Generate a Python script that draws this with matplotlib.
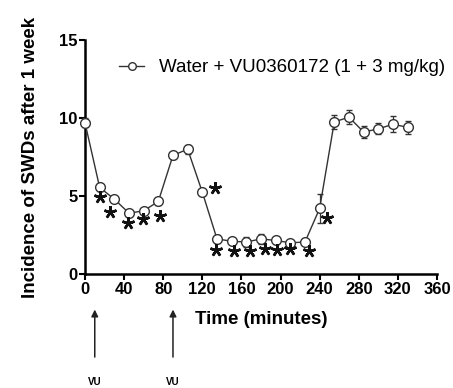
import numpy as np
import matplotlib
matplotlib.use('Agg')
import matplotlib.pyplot as plt
from matplotlib.lines import Line2D

plt.rcParams['font.family'] = ['Liberation Sans', 'DejaVu Sans']

# time points (minutes) and mean incidence
time = [0, 15, 30, 45, 60, 75, 90, 105, 120, 135, 150, 165, 180, 195, 210, 225,
        240, 255, 270, 285, 300, 315, 330]
swd = [9.7, 5.55, 4.8, 3.9, 4.05, 4.65, 7.6, 8.0, 5.25, 2.25, 2.1, 2.05, 2.25, 2.15,
       2.0, 2.05, 4.2, 9.75, 10.05, 9.1, 9.3, 9.6, 9.4]
sem = [0.3, 0.2, 0.15, 0.2, 0.2, 0.2, 0.2, 0.3, 0.2, 0.25, 0.2, 0.35, 0.3, 0.2,
       0.2, 0.2, 0.95, 0.45, 0.45, 0.4, 0.35, 0.5, 0.4]

# significance stars
star_x = [15.5, 25.5, 44.5, 59, 77, 133, 134, 152, 169, 184.5, 196, 209.5, 229, 248]
star_y = [4.95, 3.95, 3.25, 3.5, 3.7, 5.5, 1.55, 1.5, 1.5, 1.58, 1.55, 1.58, 1.5, 3.57]

label = 'Water + VU0360172 (1 + 3 mg/kg)'
arrow_t = [10, 90]

fig = plt.figure(figsize=(4.53, 3.88), dpi=100)
ax = fig.add_axes([0.1876, 0.2938, 0.777, 0.6032])

ax.errorbar(time, swd, yerr=sem, color='#333333', lw=1.0, marker='o', ms=7,
            mfc='white', mec='#333333', mew=1.0, capsize=2, elinewidth=0.9,
            capthick=0.9, clip_on=False, zorder=3)
ax.plot(star_x, star_y, ls='none', marker=(5, 2, 0), ms=9, mew=1.8,
        color='#111111', clip_on=False, zorder=4)

ax.set_xlim(0, 360)
ax.set_ylim(0, 15)
ax.set_xticks(np.arange(0, 361, 40))
ax.set_yticks([0, 5, 10, 15])
ax.spines['top'].set_visible(False)
ax.spines['right'].set_visible(False)
for s in ['left', 'bottom']:
    ax.spines[s].set_linewidth(1.8)
ax.tick_params(direction='out', length=4, width=1.5, labelsize=12, pad=1.5)
for t in ax.get_xticklabels() + ax.get_yticklabels():
    t.set_fontweight('bold')

ax.set_xlabel('Time (minutes)', fontsize=13.5, fontweight='bold', labelpad=10)
ax.set_ylabel('Incidence of SWDs after 1 week', fontsize=13.5, fontweight='bold',
              labelpad=14)

handle = Line2D([], [], color='#333333', lw=1.0, marker='o', ms=5.5,
                mfc='white', mec='#333333', mew=1.0)
ax.legend([handle], [label], loc='upper left', bbox_to_anchor=(0.05, 0.99),
          frameon=False, fontsize=13.5, handlelength=1.3, handletextpad=0.8)

# VU dosing arrows below the axis
for t in arrow_t:
    ax.annotate('', xy=(t, -2.1), xytext=(t, -5.5), xycoords='data',
                arrowprops=dict(arrowstyle='-|>', color='#222222', lw=1.1,
                                mutation_scale=10), annotation_clip=False)
    ax.text(t, -6.9, 'VU', ha='center', va='center', fontsize=7,
            fontweight='bold', clip_on=False)

fig.savefig('out.png', dpi=100)
